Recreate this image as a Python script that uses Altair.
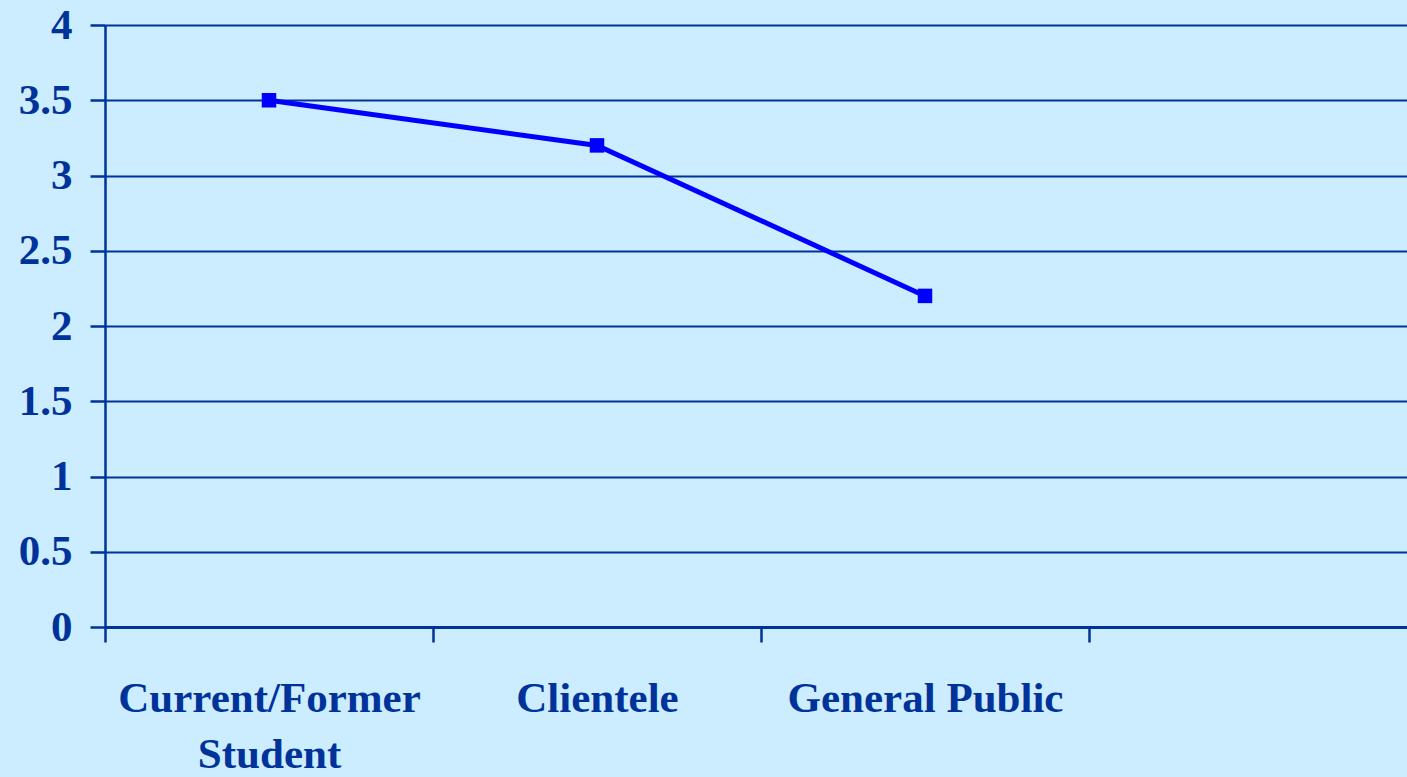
import altair as alt
import pandas as pd

# Mean rating by respondent group
groups = ["Current/Former Student", "Clientele", "General Public"]
ratings = [3.5, 3.2, 2.2]
# An empty fourth slot keeps the category axis running on past the last group
axis_slots = groups + [" "]

y_ticks = [0, 0.5, 1, 1.5, 2, 2.5, 3, 3.5, 4]

df = pd.DataFrame({"group": groups, "rating": ratings})

navy = "#003399"
line_blue = "#0000FF"
font = "Liberation Serif"

x_enc = alt.X(
    "group:N",
    sort=axis_slots,
    scale=alt.Scale(domain=axis_slots, range=[0, 1312], paddingInner=0, paddingOuter=0),
    axis=alt.Axis(
        title=None,
        labelAngle=0,
        tickBand="extent",
        tickSize=15,
        tickWidth=2.5,
        tickColor=navy,
        domainColor=navy,
        domainWidth=3,
        labelFont=font,
        labelFontWeight="bold",
        labelFontSize=43,
        labelColor=navy,
        labelPadding=35,
        labelLineHeight=56,
        labelBaseline="top",
        labelLimit=0,
        labelExpr="datum.value == 'Current/Former Student' ? ['Current/Former', 'Student'] : datum.value",
        grid=False,
    ),
)

y_enc = alt.Y(
    "rating:Q",
    scale=alt.Scale(domain=[0, 4], nice=False, zero=True),
    axis=alt.Axis(
        title=None,
        values=y_ticks,
        format="~g",
        tickSize=15,
        tickWidth=2.5,
        tickColor=navy,
        domainColor=navy,
        domainWidth=2.5,
        grid=True,
        gridColor=navy,
        gridWidth=2,
        gridOpacity=1,
        labelFont=font,
        labelFontWeight="bold",
        labelFontSize=43,
        labelColor=navy,
        labelPadding=18,
        labelLimit=0,
    ),
)

line = alt.Chart(df).mark_line(color=line_blue, strokeWidth=5).encode(x=x_enc, y=y_enc)
points = alt.Chart(df).mark_point(
    shape="square", filled=True, color=line_blue, size=210, opacity=1
).encode(x=x_enc, y=y_enc)

chart = (
    (line + points)
    .properties(
        width=1302,
        height=602,
        background="#CCECFF",
        padding={"left": 105, "top": 25, "right": 0, "bottom": 150},
        autosize=alt.AutoSizeParams(type="none"),
    )
    .configure_view(stroke=None, fill="#CCECFF")
)

chart.save("out.html", embed_options={"renderer": "svg", "actions": False})
